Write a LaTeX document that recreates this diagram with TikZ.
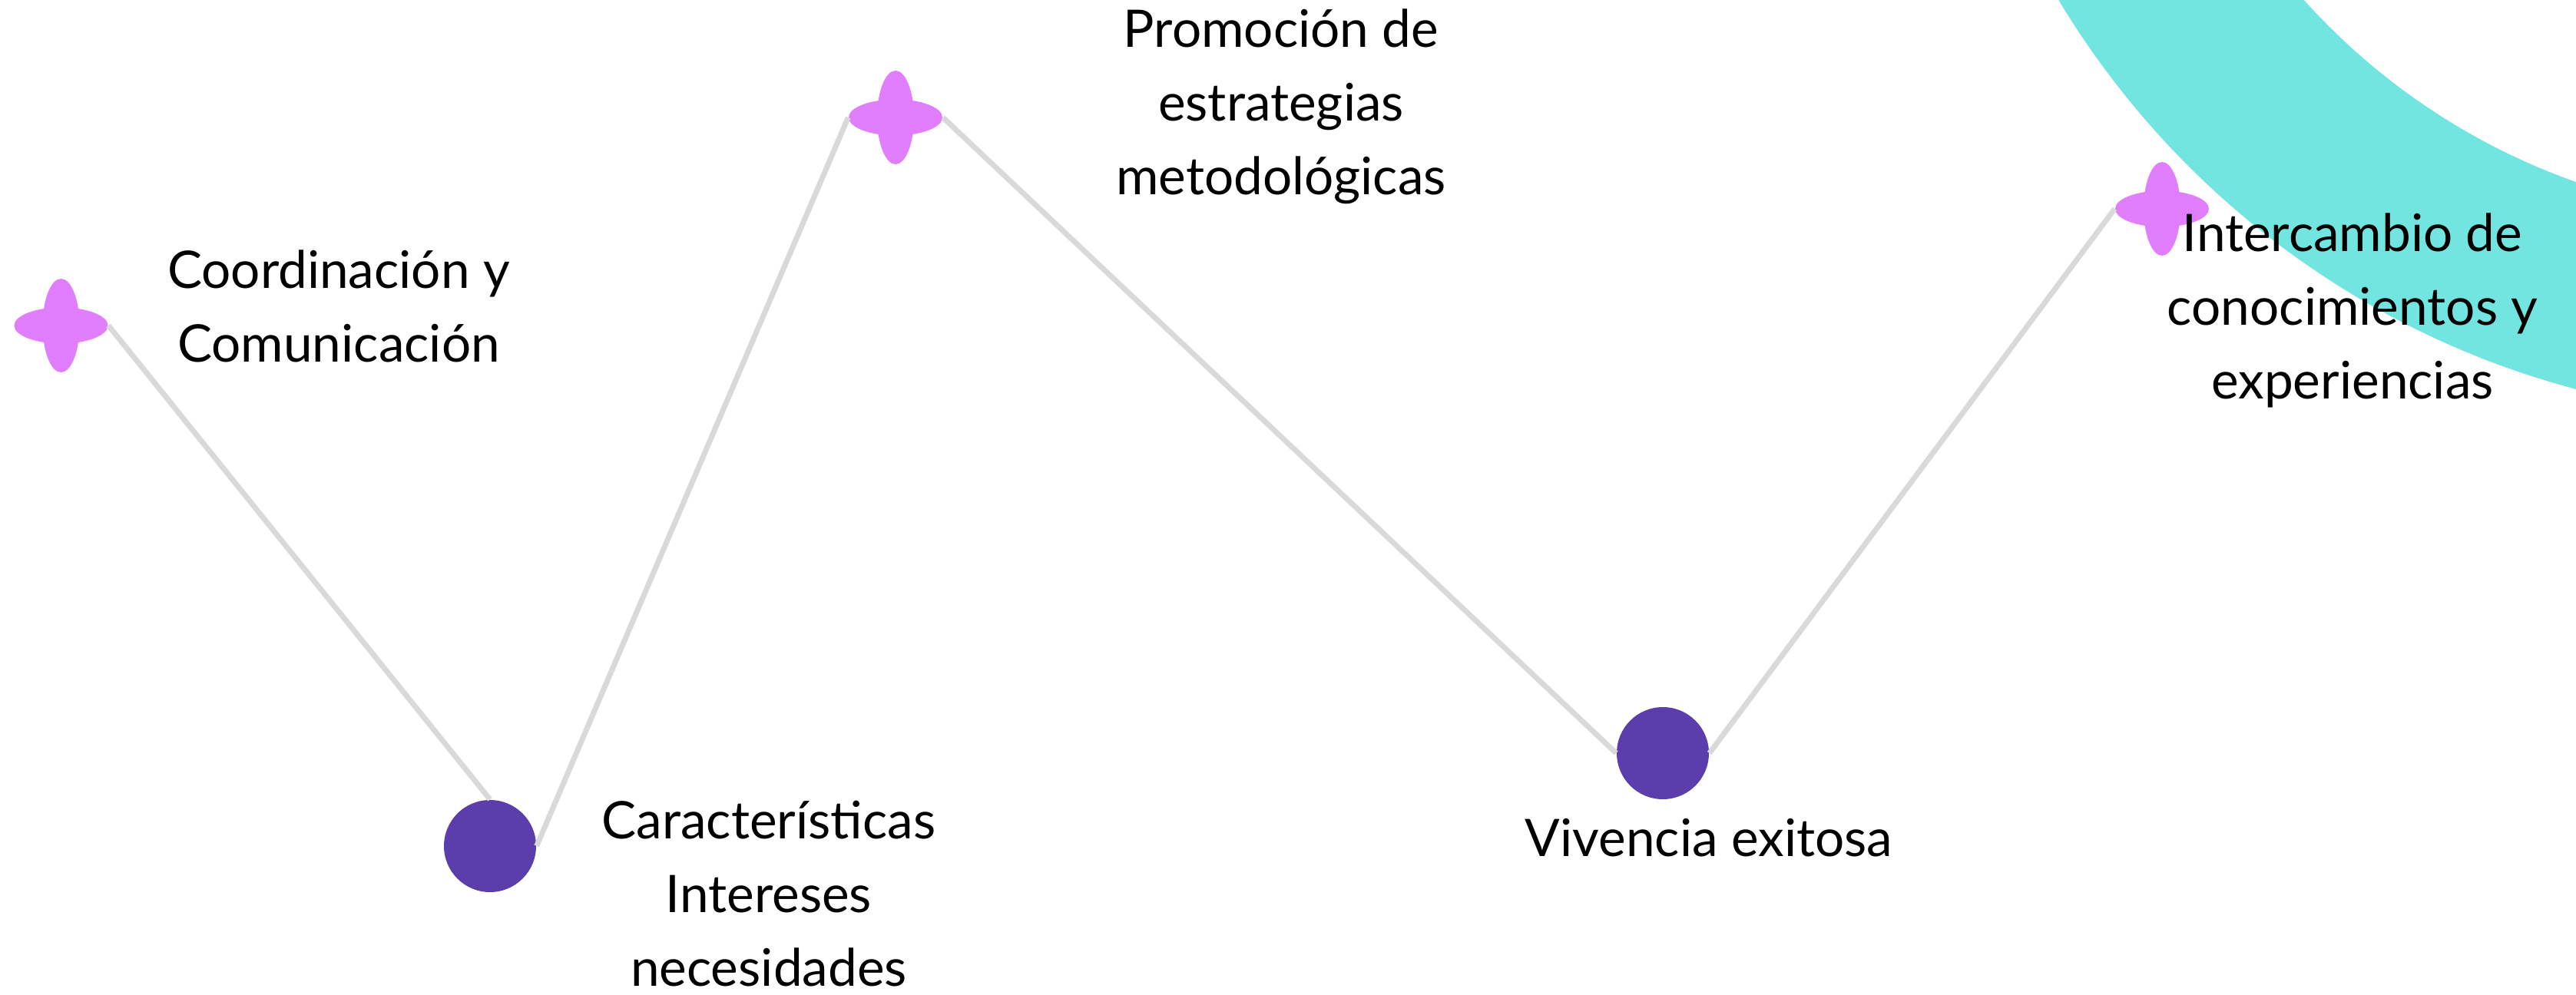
\documentclass[tikz,border=0pt]{standalone}
\usepackage{fontspec}
\setmainfont{Lato}
\usepackage{tikz}
\usetikzlibrary{shapes.geometric}
\usetikzlibrary{positioning}
\definecolor{petal}{HTML}{E07EFD}
\definecolor{plum}{HTML}{5B3EAB}
\definecolor{aqua}{HTML}{72E5E0}
\definecolor{linegray}{HTML}{D8D9D8}

\begin{document}
\begin{tikzpicture}[star/.style={ellipse, fill=petal, minimum width=1.22cm, minimum height=0.47cm, inner sep=0pt},
        dot/.style={circle, fill=plum, minimum size=1.2cm, inner sep=0pt},
        lbl/.style={align=center, inner sep=0pt, font=\fontsize{19.2}{27.3}\selectfont},
        link/.style={draw=linegray, line width=2pt}]
        \useasboundingbox (0,0) rectangle (33.54,12.95);
        \begin{scope}
            \clip (0,0) rectangle (33.54,12.95);
            \fill[aqua, even odd rule] (36.41,18.71) circle (11.2) (36.41,18.71) circle (8.62);
        \end{scope}

        \node[star] (s1) at (0.795,8.71) {};
        \node[dot] (c1) at (6.38,1.93) {};
        \node[star] (s2) at (11.66,11.42) {};
        \node[dot] (c2) at (21.65,3.14) {};
        \node[star] (s3) at (28.15,10.23) {};
        \foreach \s in {s1,s2,s3}
            \fill[petal] (\s) ellipse (0.24 and 0.61);

        \path[link] (s1.east) edge (c1.north);
        \path[link] (c1.east) edge (s2.west);
        \path[link] (s2.east) edge (c2.west);
        \path[link] (c2.east) edge (s3.west);

        \node[lbl] (coord) at (4.41,8.96) {Coordinación y\\Comunicación};
        \node[lbl] (promo) at (16.68,11.56) {Promoción de\\estrategias\\metodológicas};
        \node[lbl] (inter) at (30.63,8.91) {Intercambio de\\conocimientos y\\experiencias};
        \node[lbl] (carac) at (10.01,1.31) {Características\\Intereses\\necesidades};
        \node[lbl] (viv) at (22.25,2.04) {Vivencia exitosa};
    \end{tikzpicture}
\end{document}
